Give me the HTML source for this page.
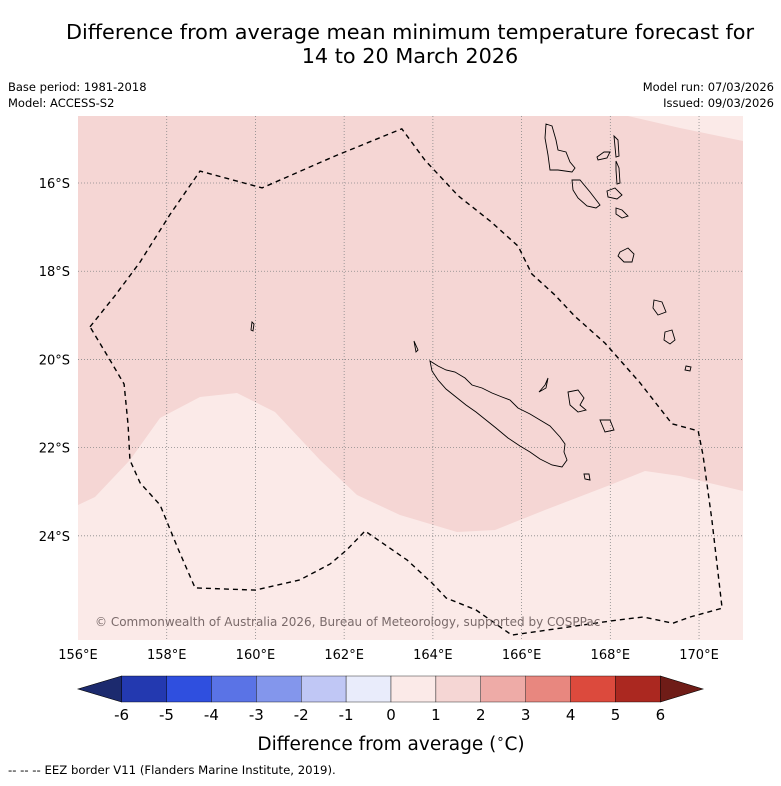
<!DOCTYPE html>
<html><head><meta charset="utf-8"><style>
body{margin:0;background:#fff;font-family:"Liberation Sans","DejaVu Sans",sans-serif}
svg text{font-family:"DejaVu Sans","Liberation Sans",sans-serif}
</style></head><body>
<svg id="s" width="781" height="781" viewBox="0 0 781 781">
<text x="410" y="39" font-size="20.8" text-anchor="middle">Difference from average mean minimum temperature forecast for</text>
<text x="410" y="63" font-size="20.8" text-anchor="middle">14 to 20 March 2026</text>
<text x="8" y="91" font-size="11.5">Base period: 1981-2018</text>
<text x="8" y="107" font-size="11.5">Model: ACCESS-S2</text>
<text x="774" y="91" font-size="11.5" text-anchor="end">Model run: 07/03/2026</text>
<text x="774" y="107" font-size="11.5" text-anchor="end">Issued: 09/03/2026</text>
<g id="map">
<rect x="78" y="116" width="665" height="524" fill="#f5d6d4"/>
<path d="M78,505 L95,497 L130,460 L160,418 L200,397 L237,393 L275,412 L320,460 L357,495 L400,515 L457,532 L495,530 L545,510 L610,485 L645,471 L680,476 L743,491 L743,640 L78,640 Z" fill="#fbeae8"/>
<path d="M628,116 L680,128 L743,141 L743,116 Z" fill="#fbeae8"/>
<g id="grid"></g>
<g id="islands" fill="none" stroke="#000" stroke-width="0.9">
<path d="M430,361 L438,366 L446,370 L455,372 L465,378 L472,385 L482,388 L492,393 L502,397 L510,400 L518,408 L530,414 L540,420 L550,426 L560,437 L565,444 L564,452 L567,460 L562,467 L552,465 L540,459 L530,452 L520,446 L508,438 L496,428 L486,420 L476,412 L466,405 L456,397 L446,389 L438,380 L432,371 Z"/>
<path d="M414,341 L418,350 L416,352 Z"/>
<path d="M548,378 L546,388 L539,392 L545,385 Z"/>
<path d="M568,392 L578,390 L584,398 L580,405 L586,410 L578,412 L570,405 Z"/>
<path d="M600,420 L610,420 L614,430 L605,432 Z"/>
<path d="M584,474 L589,474 L590,480 L585,479 Z"/>
<path d="M546,124 L552,126 L556,140 L558,150 L566,152 L570,162 L575,168 L572,172 L558,170 L550,170 L548,155 L545,138 Z"/>
<path d="M614,136 L618,140 L619,156 L616,157 Z"/>
<path d="M597,157 L604,152 L610,152 L607,158 L598,160 Z"/>
<path d="M616,161 L619,168 L620,183 L617,184 L616,170 Z"/>
<path d="M572,180 L580,180 L590,192 L600,205 L596,208 L587,206 L578,198 L573,190 Z"/>
<path d="M607,191 L615,188 L622,195 L617,199 L608,197 Z"/>
<path d="M616,208 L622,210 L628,216 L622,218 L616,214 Z"/>
<path d="M620,252 L628,248 L634,254 L632,262 L624,262 L618,256 Z"/>
<path d="M654,300 L662,302 L666,312 L658,315 L653,308 Z"/>
<path d="M665,332 L672,330 L675,340 L670,344 L664,340 Z"/>
<path d="M686,366 L691,367 L690,371 L685,370 Z"/>
<path d="M252,322 L254,324 L253,331 L251,330 Z"/>
</g>
<path id="eez" fill="none" stroke="#000" stroke-width="1.4" stroke-dasharray="5,4"/>
<text x="95" y="626" font-size="12" fill="#7a6a6a">© Commonwealth of Australia 2026, Bureau of Meteorology, supported by COSPPac</text>
</g>
<g id="axes"></g>
<g id="cbar"></g>
<text x="391" y="750" font-size="18.5" text-anchor="middle">Difference from average (<tspan font-size="13" dy="-7">∘</tspan><tspan dy="7">C)</tspan></text>
<text x="8" y="774" font-size="11.7">--  --  -- EEZ border V11 (Flanders Marine Institute, 2019).</text>
</svg>
<script>
const lonTicks=[156,158,160,162,164,166,168,170];
const latTicks=[-16,-18,-20,-22,-24];
const eezLon=[156.27,156.83,157.40,158.07,158.75,160.15,161.79,163.30,163.82,164.57,165.29,165.92,166.23,166.75,167.20,167.88,168.67,169.39,169.98,170.09,170.29,170.52,169.80,169.41,168.74,168.15,165.78,164.97,164.30,163.98,163.42,162.47,162.06,161.68,161.00,159.99,158.64,158.25,157.85,157.40,157.17,157.13,157.04,156.72,156.27];
const eezLat=[-19.26,-18.56,-17.79,-16.72,-15.73,-16.11,-15.39,-14.77,-15.48,-16.29,-16.86,-17.43,-18.06,-18.54,-19.02,-19.63,-20.53,-21.46,-21.62,-22.17,-23.64,-25.64,-25.84,-25.98,-25.84,-25.91,-26.25,-25.68,-25.41,-25.07,-24.55,-23.89,-24.32,-24.64,-25.00,-25.23,-25.18,-24.28,-23.30,-22.80,-22.28,-21.49,-20.56,-20.01,-19.26];
const cbLevels=[-6,-5,-4,-3,-2,-1,0,1,2,3,4,5,6];
const cbColors=["#2339b0","#2f4fdf","#5a73e6","#8396ec","#c0c7f5","#e9ecfb","#fbeae8","#f5d6d4","#eeaba7","#e8877f","#dc4a3d","#ab2820"];
const NS="http://www.w3.org/2000/svg";
const X=lon=>78+(lon-156)*44.36;
const Y=lat=>116+(-14.48-lat)*44.1;
function mk(t,a,p){const e=document.createElementNS(NS,t);for(const k in a)e.setAttribute(k,a[k]);p.appendChild(e);return e;}
const grid=document.getElementById('grid'),axes=document.getElementById('axes');
lonTicks.forEach(l=>{
 if(l>156){const g=mk('line',{x1:X(l),x2:X(l),y1:116,y2:640,stroke:'#888','stroke-width':0.8,'stroke-dasharray':'1,2'},grid);
 
 }
 const t=mk('text',{x:X(l),y:659,'font-size':13,'text-anchor':'middle'},axes);t.textContent=l+'°E';
 
 
});
latTicks.forEach(l=>{
 const g=mk('line',{x1:78,x2:743,y1:Y(l),y2:Y(l),stroke:'#888','stroke-width':0.8,'stroke-dasharray':'1,2'},grid);
 
 
 const t=mk('text',{x:70,y:Y(l)+5,'font-size':13,'text-anchor':'end'},axes);t.textContent=(-l)+'°S';
 
 
});
document.getElementById('eez').setAttribute('d',eezLon.map((v,i)=>(i?'L':'M')+X(v).toFixed(1)+','+Y(eezLat[i]).toFixed(1)).join(' '));
const cb=document.getElementById('cbar');
const CX=v=>391+v*44.9, cy=676, ch=26;
const tl=mk('polygon',{points:`${CX(-6)},${cy} ${CX(-6)},${cy+ch} 78,${cy+ch/2}`,fill:'#1c2a6e',stroke:'#000','stroke-width':0.6},cb);


const tr=mk('polygon',{points:`${CX(6)},${cy} ${CX(6)},${cy+ch} 703,${cy+ch/2}`,fill:'#6f1c17',stroke:'#000','stroke-width':0.6},cb);


cbColors.forEach((c,i)=>{
 const r=mk('rect',{x:CX(cbLevels[i]),y:cy,width:CX(cbLevels[i+1])-CX(cbLevels[i]),height:ch,fill:c,stroke:'#000','stroke-width':0.4},cb);
 
 
});
cbLevels.forEach(v=>{
 const t=mk('text',{x:CX(v),y:720,'font-size':15,'text-anchor':'middle'},cb);t.textContent=v;
 
 
});
</script>
</body></html>
